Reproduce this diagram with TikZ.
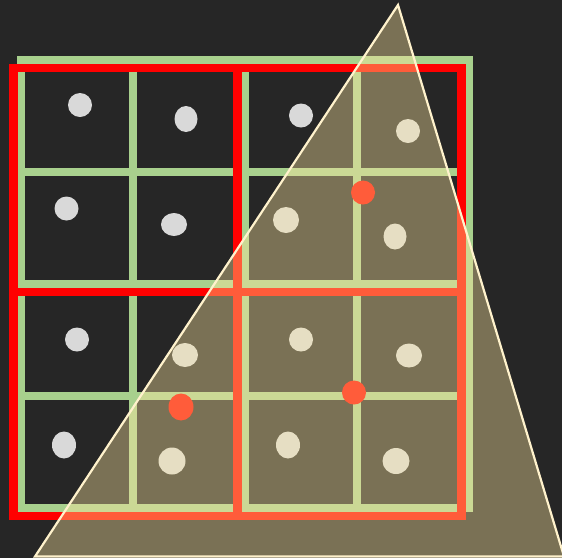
\documentclass[tikz,border=0pt]{standalone}
\definecolor{bgc}{HTML}{262626}
\definecolor{gridg}{HTML}{A8D08D}
\definecolor{gridr}{HTML}{FF0000}
\definecolor{dotg}{HTML}{D9D9D9}
\definecolor{tanfill}{HTML}{7A7155}
\definecolor{gridgl}{HTML}{CBD995}
\definecolor{gridrl}{HTML}{FF5C3A}
\definecolor{dotc}{HTML}{E6DEC3}
\definecolor{dotr}{HTML}{FF5C3A}
\definecolor{triline}{HTML}{FFF2CC}
\tikzset{
  gline/.style={line width=8pt},
  rline/.style={line width=8.4pt},
}
\newcommand\drawgridset[3]{%
  \draw[gline,draw=#1] (21,60) rectangle (469,508);
  \foreach \u in {133,245,357} {
    \draw[gline,draw=#1] (\u,60) -- (\u,508);
    \draw[gline,draw=#1] (21,\u+39) -- (469,\u+39);
  }
  \draw[rline,draw=#2] (13.5,68) rectangle (461.5,516);
  \draw[rline,draw=#2] (237.5,68) -- (237.5,516);
  \draw[rline,draw=#2] (13.5,292) -- (461.5,292);
  \fill[#3] (80,105) ellipse (12 and 12);
  \fill[#3] (186,119) ellipse (11.5 and 13);
  \fill[#3] (301,115.5) ellipse (12 and 12);
  \fill[#3] (408,131) ellipse (12 and 12);
  \fill[#3] (66.5,208.5) ellipse (12 and 12);
  \fill[#3] (174,224.5) ellipse (13 and 11.5);
  \fill[#3] (286,220) ellipse (13 and 13);
  \fill[#3] (395,236.5) ellipse (11.5 and 13);
  \fill[#3] (77,339.5) ellipse (12 and 12);
  \fill[#3] (185,355) ellipse (13 and 12);
  \fill[#3] (301,339.5) ellipse (12 and 12);
  \fill[#3] (409,355.5) ellipse (13 and 12);
  \fill[#3] (64,445) ellipse (12 and 13.5);
  \fill[#3] (172,461) ellipse (13.5 and 13.5);
  \fill[#3] (288,445) ellipse (12 and 13.5);
  \fill[#3] (396,461) ellipse (13.5 and 13);
}
\begin{document}
\begin{tikzpicture}[x=1pt,y=-1pt]
\fill[bgc] (0,0) rectangle (562,558);
\useasboundingbox (0,0) rectangle (562,558);
\drawgridset{gridg}{gridr}{dotg}
\begin{scope}
  \clip (398,5) -- (35,556.5) -- (564,556.5) -- cycle;
  \fill[tanfill] (0,0) rectangle (562,558);
  \drawgridset{gridgl}{gridrl}{dotc}
\end{scope}
\fill[dotr] (363,192.5) ellipse (12 and 12);
\fill[dotr] (354,392.5) ellipse (12 and 12);
\fill[dotr] (181,407) ellipse (12.5 and 13.5);
\draw[triline,line width=2.2pt,line join=miter] (398,5) -- (35,556.5) -- (564,556.5) -- cycle;
\end{tikzpicture}
\end{document}
